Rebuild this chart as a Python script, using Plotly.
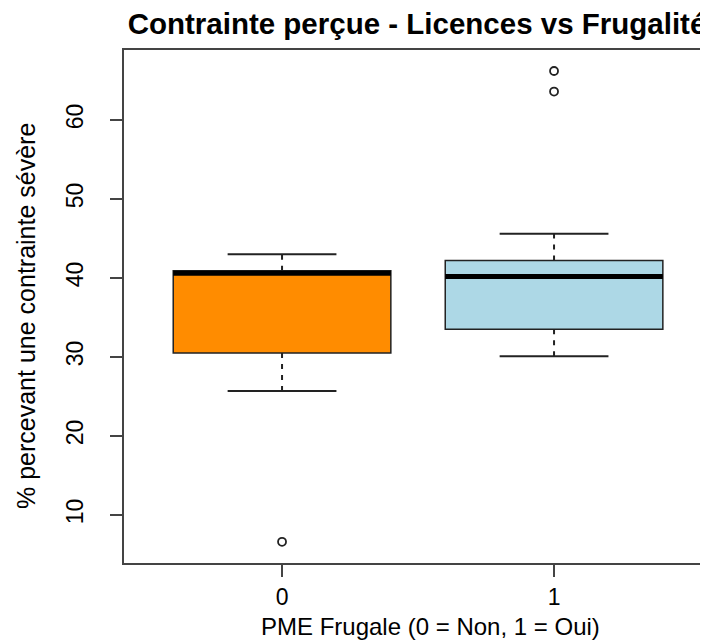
import plotly.graph_objects as go

# ---- data ----
groups = ["0", "1"]
positions = [0, 1]
q1 = [30.5, 33.5]
median = [40.6, 40.2]
q3 = [40.9, 42.2]
lower_whisker = [25.7, 30.1]
upper_whisker = [43.0, 45.6]
outliers = [[6.6], [66.2, 63.6]]
fill_colors = ["#FF8C00", "#ADD8E6"]

box_width = 0.8
cap_width = 0.4
edge = "#222222"

fig = go.Figure()

for i, pos in enumerate(positions):
    # dashed whiskers
    fig.add_trace(go.Scatter(
        x=[pos, pos, None, pos, pos],
        y=[q3[i], upper_whisker[i], None, q1[i], lower_whisker[i]],
        mode="lines", line=dict(color=edge, width=2, dash="5px,6px"),
        hoverinfo="skip", showlegend=False))
    # caps
    fig.add_trace(go.Scatter(
        x=[pos - cap_width / 2, pos + cap_width / 2, None,
           pos - cap_width / 2, pos + cap_width / 2],
        y=[upper_whisker[i], upper_whisker[i], None,
           lower_whisker[i], lower_whisker[i]],
        mode="lines", line=dict(color=edge, width=2),
        hoverinfo="skip", showlegend=False))
    # box body
    fig.add_trace(go.Box(
        x=[pos], q1=[q1[i]], median=[median[i]], q3=[q3[i]],
        lowerfence=[q1[i]], upperfence=[q3[i]],
        width=box_width, fillcolor=fill_colors[i],
        line=dict(color=edge, width=1.5), boxpoints=False,
        name=groups[i], showlegend=False, hoverinfo="skip"))
    # thick median
    fig.add_trace(go.Scatter(
        x=[pos - box_width / 2, pos + box_width / 2],
        y=[median[i], median[i]],
        mode="lines", line=dict(color="black", width=5),
        hoverinfo="skip", showlegend=False))
    # outliers
    fig.add_trace(go.Scatter(
        x=[pos] * len(outliers[i]), y=outliers[i], mode="markers",
        marker=dict(symbol="circle-open", size=8, color=edge,
                    line=dict(width=1.8, color=edge)),
        hoverinfo="skip", showlegend=False))

font_family = "Liberation Sans, Arial, sans-serif"

# the page body adds an 8px margin, so the figure is 700x633
plot_left, plot_w = 116, 584
plot_bottom, plot_h = 555, 513

fig.update_layout(
    width=700, height=633,
    margin=dict(l=plot_left, r=0, t=42, b=633 - plot_bottom),
    paper_bgcolor="white", plot_bgcolor="white",
    font=dict(family=font_family, color="black"),
    title=dict(text="<b>Contrainte perçue - Licences vs Frugalité</b>",
               x=0.5017, xanchor="center", xref="paper",
               y=1 - 26 / 633, yanchor="bottom", yref="container",
               font=dict(size=29.5, family=font_family, color="black")),
    xaxis=dict(range=[-0.581, 1.566], tickmode="array",
               tickvals=positions, ticktext=groups, automargin=False,
               showline=True, linecolor="#444", linewidth=2, mirror=True,
               ticks="outside", ticklen=12, tickwidth=2, tickcolor="#444",
               showgrid=False, zeroline=False,
               tickfont=dict(size=23), ticklabelstandoff=0),
    yaxis=dict(range=[3.92, 68.86], tickvals=[10, 20, 30, 40, 50, 60],
               automargin=False,
               showline=True, linecolor="#444", linewidth=2, mirror=False,
               ticks="outside", ticklen=12, tickwidth=2, tickcolor="#444",
               showgrid=False, zeroline=False, tickangle=-90,
               tickfont=dict(size=23), ticklabelstandoff=18),
    annotations=[
        dict(text="PME Frugale (0 = Non, 1 = Oui)", showarrow=False,
             xref="paper", yref="paper",
             x=(422 - plot_left) / plot_w, xanchor="center",
             y=-(618 - plot_bottom) / plot_h, yanchor="middle",
             font=dict(size=24, family=font_family, color="black")),
        dict(text="% percevant une contrainte sévère", showarrow=False,
             xref="paper", yref="paper", textangle=-90,
             x=(18 - plot_left) / plot_w, xanchor="center",
             y=(plot_bottom - 308) / plot_h, yanchor="middle",
             font=dict(size=25, family=font_family, color="black")),
    ],
)

fig.write_html("out.html")
